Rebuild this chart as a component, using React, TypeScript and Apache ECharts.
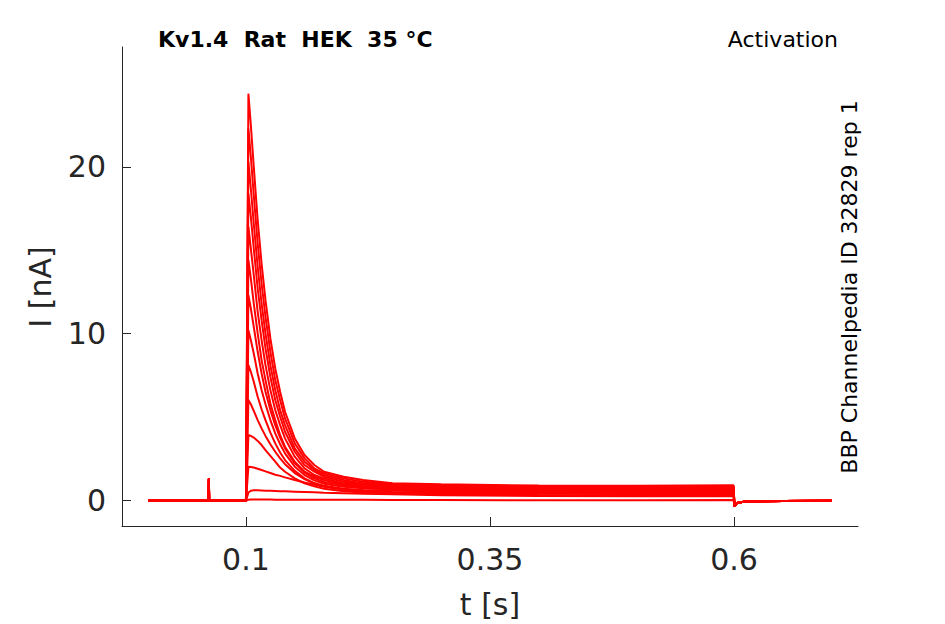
import React, { useEffect, useRef } from "react";
import * as echarts from "echarts";

// time (s) before the step: baseline with a small artefact spike
const TIME_BEFORE = [0, 0.0617, 0.062, 0.0623, 0.1];
const CURRENT_BEFORE = [-0.05, -0.05, 1.27, -0.05, -0.05];

// time (s) during the step
const TIME_STEP = [
  0.1025, 0.105, 0.108, 0.112, 0.116, 0.12, 0.125, 0.13, 0.135, 0.14, 0.15,
  0.16, 0.17, 0.18, 0.2, 0.22, 0.25, 0.3, 0.4, 0.5, 0.5995,
];

// current (nA) of each sweep during the step
const SWEEP_01 = [24.4, 22.5, 20.0, 16.8, 14.2, 12.0, 9.7, 7.9, 6.5, 5.3, 3.7, 2.7, 2.1, 1.7, 1.4, 1.2, 1.0, 0.94, 0.87, 0.86, 0.88];
const SWEEP_02 = [22.3, 20.6, 18.3, 15.4, 13.0, 11.0, 8.9, 7.2, 6.0, 4.9, 3.4, 2.5, 1.9, 1.6, 1.3, 1.1, 0.98, 0.89, 0.83, 0.82, 0.84];
const SWEEP_03 = [20.3, 18.7, 16.6, 14.0, 11.8, 10.0, 8.1, 6.6, 5.4, 4.5, 3.1, 2.3, 1.8, 1.5, 1.2, 1.0, 0.93, 0.85, 0.79, 0.78, 0.8];
const SWEEP_04 = [18.4, 17.0, 15.1, 12.7, 10.8, 9.1, 7.4, 6.0, 5.0, 4.1, 2.9, 2.1, 1.7, 1.4, 1.1, 0.98, 0.87, 0.8, 0.75, 0.74, 0.76];
const SWEEP_05 = [16.4, 15.1, 13.5, 11.3, 9.6, 8.1, 6.6, 5.4, 4.5, 3.7, 2.6, 1.9, 1.5, 1.3, 1.0, 0.91, 0.82, 0.76, 0.71, 0.7, 0.72];
const SWEEP_06 = [14.4, 13.3, 11.8, 10.0, 8.4, 7.2, 5.8, 4.8, 3.9, 3.2, 2.3, 1.7, 1.4, 1.2, 0.95, 0.84, 0.76, 0.7, 0.66, 0.65, 0.67];
const SWEEP_07 = [12.3, 11.5, 10.4, 8.9, 7.6, 6.5, 5.4, 4.5, 3.75, 3.1, 2.2, 1.65, 1.3, 1.08, 0.88, 0.77, 0.69, 0.64, 0.61, 0.6, 0.62];
const SWEEP_08 = [10.2, 9.6, 8.8, 7.6, 6.6, 5.75, 4.8, 4.0, 3.35, 2.8, 2.0, 1.5, 1.18, 0.98, 0.8, 0.7, 0.63, 0.59, 0.56, 0.55, 0.57];
const SWEEP_09 = [8.1, 7.7, 7.1, 6.2, 5.45, 4.8, 4.05, 3.4, 2.85, 2.4, 1.75, 1.3, 1.02, 0.85, 0.68, 0.6, 0.55, 0.52, 0.5, 0.49, 0.51];
const SWEEP_10 = [6.0, 5.75, 5.35, 4.8, 4.3, 3.85, 3.35, 2.9, 2.5, 2.15, 1.62, 1.25, 0.98, 0.82, 0.62, 0.53, 0.48, 0.46, 0.44, 0.43, 0.45];
const SWEEP_11 = [3.9, 3.85, 3.75, 3.55, 3.3, 3.0, 2.65, 2.3, 1.95, 1.7, 1.3, 1.0, 0.82, 0.68, 0.52, 0.45, 0.41, 0.39, 0.37, 0.36, 0.38];
const SWEEP_12 = [2.0, 1.98, 1.95, 1.88, 1.8, 1.72, 1.62, 1.52, 1.45, 1.36, 1.2, 1.05, 0.92, 0.8, 0.62, 0.5, 0.4, 0.33, 0.3, 0.29, 0.31];
const SWEEP_13 = [0.45, 0.56, 0.58, 0.58, 0.57, 0.56, 0.55, 0.54, 0.53, 0.52, 0.5, 0.48, 0.46, 0.44, 0.41, 0.38, 0.34, 0.29, 0.24, 0.22, 0.23];
const SWEEP_14 = [0.02, 0.03, 0.03, 0.03, 0.03, 0.03, 0.03, 0.02, 0.02, 0.02, 0.02, 0.02, 0.02, 0.01, 0.01, 0.01, 0.0, 0.0, -0.01, -0.01, 0.0];

const SWEEPS = [
  SWEEP_01, SWEEP_02, SWEEP_03, SWEEP_04, SWEEP_05, SWEEP_06, SWEEP_07,
  SWEEP_08, SWEEP_09, SWEEP_10, SWEEP_11, SWEEP_12, SWEEP_13, SWEEP_14,
];

// time (s) after the step: tail current
const TIME_AFTER = [0.6005, 0.603, 0.61, 0.65, 0.7];
const CURRENT_AFTER = [-0.38, -0.18, -0.1, -0.06, -0.05];

const X_TICKS = [0.1, 0.35, 0.6];
const Y_TICKS = [0, 10, 20];

const TITLE = "Kv1.4  Rat  HEK  35 °C";
const PROTOCOL = "Activation";
const SOURCE = "BBP Channelpedia ID 32829 rep 1";
const X_NAME = "t [s]";
const Y_NAME = "I [nA]";

const FONT = "'DejaVu Sans', sans-serif";
const AXIS_COLOR = "#262626";

export default function App() {
  const ref = useRef<HTMLDivElement>(null);

  useEffect(() => {
    if (!ref.current) return;
    const chart = echarts.init(ref.current, undefined, { renderer: "svg" });

    const series = SWEEPS.map((sweep, i) => {
      const data: number[][] = [];
      TIME_BEFORE.forEach((t, k) => data.push([t, CURRENT_BEFORE[k]]));
      TIME_STEP.forEach((t, k) => data.push([t, sweep[k]]));
      TIME_AFTER.forEach((t, k) => data.push([t, CURRENT_AFTER[k]]));
      return {
        name: "sweep " + (i + 1),
        type: "line",
        data,
        showSymbol: false,
        symbol: "none",
        silent: true,
        lineStyle: { color: "#ff0000", width: 2 },
        animation: false,
      };
    });

    chart.setOption({
      animation: false,
      grid: { left: 122, right: 87, top: 47, bottom: 98, containLabel: false },
      xAxis: {
        type: "value",
        min: -0.027,
        max: 0.727,
        splitLine: { show: false },
        axisLine: { show: true, onZero: false, lineStyle: { color: AXIS_COLOR, width: 1 } },
        axisTick: {
          show: true,
          inside: true,
          length: 9,
          customValues: X_TICKS,
          lineStyle: { color: AXIS_COLOR, width: 1 },
        },
        axisLabel: {
          customValues: X_TICKS,
          formatter: (v: number) => String(v),
          fontSize: 30,
          fontFamily: FONT,
          color: AXIS_COLOR,
          margin: 18,
        },
      },
      yAxis: {
        type: "value",
        min: -1.56,
        max: 27.2,
        splitLine: { show: false },
        axisLine: { show: true, onZero: false, lineStyle: { color: AXIS_COLOR, width: 1 } },
        axisTick: {
          show: true,
          inside: true,
          length: 9,
          customValues: Y_TICKS,
          lineStyle: { color: AXIS_COLOR, width: 1 },
        },
        axisLabel: {
          customValues: Y_TICKS,
          formatter: (v: number) => String(v),
          fontSize: 30,
          fontFamily: FONT,
          color: AXIS_COLOR,
          margin: 16,
        },
      },
      graphic: [
        {
          type: "text",
          x: 158,
          y: 39,
          style: {
            text: TITLE,
            font: "bold 22px " + FONT,
            fill: "#000",
            align: "left",
            verticalAlign: "middle",
          },
        },
        {
          type: "text",
          x: 838,
          y: 39,
          style: {
            text: PROTOCOL,
            font: "22px " + FONT,
            fill: "#000",
            align: "right",
            verticalAlign: "middle",
          },
        },
        {
          type: "text",
          x: 849,
          y: 287,
          rotation: Math.PI / 2,
          style: {
            text: SOURCE,
            font: "22px " + FONT,
            fill: "#000",
            align: "center",
            verticalAlign: "middle",
          },
        },
        {
          type: "text",
          x: 490,
          y: 604,
          style: {
            text: X_NAME,
            font: "30px " + FONT,
            fill: AXIS_COLOR,
            align: "center",
            verticalAlign: "middle",
          },
        },
        {
          type: "text",
          x: 40,
          y: 287,
          rotation: Math.PI / 2,
          style: {
            text: Y_NAME,
            font: "30px " + FONT,
            fill: AXIS_COLOR,
            align: "center",
            verticalAlign: "middle",
          },
        },
      ],
      series,
    });

    return () => chart.dispose();
  }, []);

  return (
    <div
      ref={ref}
      style={{ position: "fixed", left: 0, top: 0, width: 945, height: 624, background: "#fff" }}
    />
  );
}
